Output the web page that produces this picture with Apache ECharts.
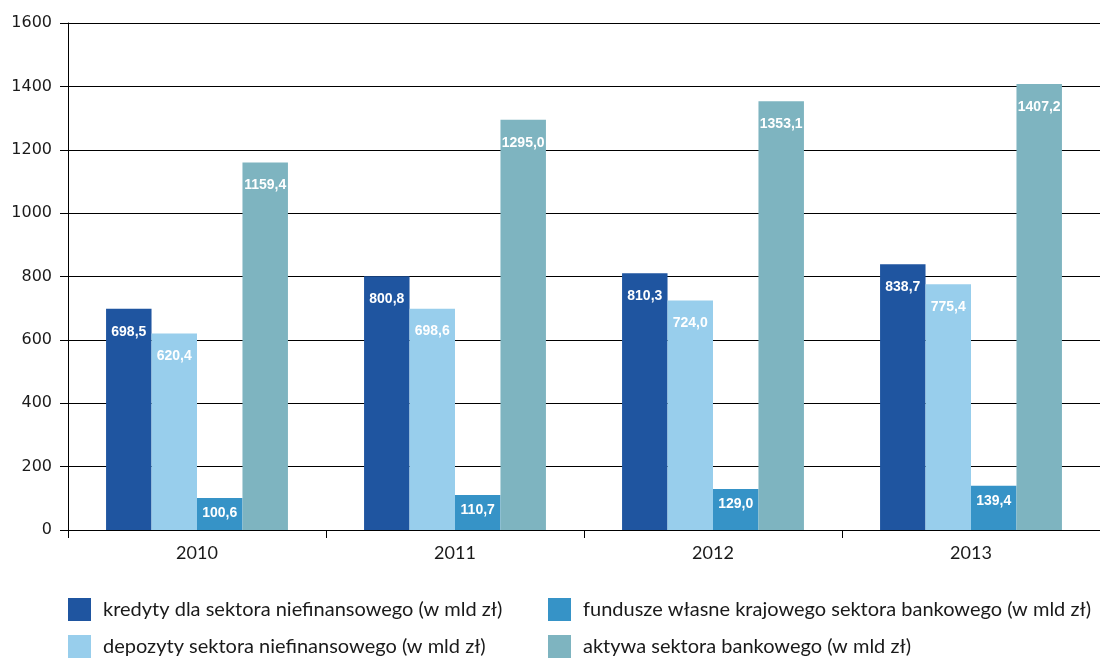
<!DOCTYPE html>
<html>
<head>
<meta charset="utf-8">
<script src="https://cdn.jsdelivr.net/npm/echarts@6/dist/echarts.min.js"></script>
<style>
  html, body { margin: 0; padding: 0; background: #fff; }
  #chart { width: 1100px; height: 659px; }
</style>
</head>
<body>
<div id="chart"></div>
<script>
// Years on the category axis
const years = ['2010', '2011', '2012', '2013'];

// Values in billions of PLN
const kredyty = [698.5, 800.8, 810.3, 838.7];
const depozyty = [620.4, 698.6, 724.0, 775.4];
const fundusze = [100.6, 110.7, 129.0, 139.4];
const aktywa = [1159.4, 1295.0, 1353.1, 1407.2];

const seriesNames = [
  'kredyty dla sektora niefinansowego (w mld zł)',
  'depozyty sektora niefinansowego (w mld zł)',
  'fundusze własne krajowego sektora bankowego (w mld zł)',
  'aktywa sektora bankowego (w mld zł)'
];
const colors = ['#1F55A0', '#98CEEC', '#3693C7', '#7EB4C0'];

const textFont = 'Lato, "Noto Sans", sans-serif';
const tickFont = '"DejaVu Sans", sans-serif';
const labelFont = '"Liberation Sans Narrow", "Liberation Sans", sans-serif';

function fmt(v) {
  return v.toFixed(1).replace('.', ',');
}

// Value labels sit inside the top of each bar; short bars use a tighter offset
function barSeries(name, data, color, offset) {
  return {
    name: name,
    type: 'bar',
    data: data,
    barGap: '0%',
    barCategoryGap: '29.5%',
    itemStyle: { color: color },
    label: {
      show: true,
      position: 'insideTop',
      distance: offset,
      color: '#fff',
      fontFamily: labelFont,
      fontWeight: 'bold',
      fontSize: 14,
      formatter: p => fmt(p.value)
    }
  };
}

// One legend entry per block so the 2x2 arrangement stays fixed
const legendSlots = [
  { left: 68, top: 598 },
  { left: 68, top: 635 },
  { left: 548, top: 598 },
  { left: 548, top: 635 }
];
const legends = seriesNames.map((name, i) => ({
  left: legendSlots[i].left,
  top: legendSlots[i].top,
  padding: 0,
  itemWidth: 23,
  itemHeight: 23,
  icon: 'rect',
  textStyle: { fontFamily: textFont, fontSize: 20, color: '#1a1a1a', padding: [0, 0, 0, 7] },
  data: [name]
}));

const chart = echarts.init(document.getElementById('chart'), null, { renderer: 'canvas' });

chart.setOption({
  animation: false,
  grid: { left: 68, right: 0, top: 23, bottom: 129, containLabel: false },
  legend: legends,
  xAxis: {
    type: 'category',
    data: years,
    axisLine: { lineStyle: { color: '#000', width: 1 } },
    axisTick: { show: true, length: 8, lineStyle: { color: '#000' } },
    axisLabel: { fontFamily: textFont, fontSize: 18, color: '#1a1a1a', margin: 14 }
  },
  yAxis: {
    type: 'value',
    min: 0,
    max: 1600,
    interval: 200,
    axisLine: { show: true, lineStyle: { color: '#000', width: 1 } },
    axisTick: { show: true, length: 8, lineStyle: { color: '#000' } },
    axisLabel: {
      fontFamily: tickFont, fontSize: 16, color: '#1a1a1a', margin: 16,
      formatter: v => String(v)
    },
    splitLine: { show: true, lineStyle: { color: '#000', width: 1 } }
  },
  series: [
    barSeries(seriesNames[0], kredyty, colors[0], 16),
    barSeries(seriesNames[1], depozyty, colors[1], 16),
    barSeries(seriesNames[2], fundusze, colors[2], 8),
    barSeries(seriesNames[3], aktywa, colors[3], 16)
  ]
});
</script>
</body>
</html>
